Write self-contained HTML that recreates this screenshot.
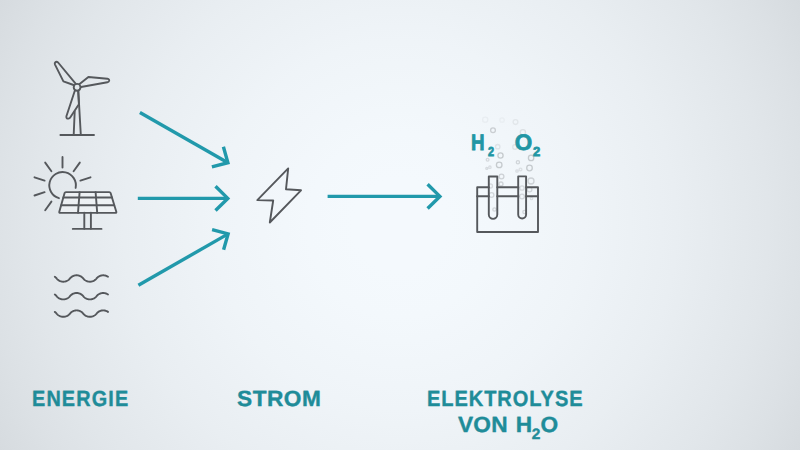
<!DOCTYPE html>
<html lang="de"><head><meta charset="utf-8"><title>Elektrolyse</title>
<style>
html,body{margin:0;padding:0;}
body{width:800px;height:450px;overflow:hidden;background:#d6dbdf;font-family:"Liberation Sans",sans-serif;}
#stage{position:relative;width:800px;height:450px;overflow:hidden;background:radial-gradient(circle 460px at 400px 225px, rgb(244,249,253) 0.0%, rgb(244,249,253) 10.0%, rgb(243,248,252) 20.0%, rgb(241,246,250) 30.0%, rgb(239,244,248) 40.0%, rgb(236,241,245) 50.0%, rgb(233,238,242) 60.0%, rgb(229,234,238) 70.0%, rgb(225,230,234) 80.0%, rgb(220,225,229) 90.0%, rgb(214,219,223) 100.0%);}
svg{position:absolute;left:0;top:0;}
.t{position:absolute;font-weight:bold;text-rendering:geometricPrecision;white-space:nowrap;transform-origin:0 0;line-height:1;-webkit-text-stroke:0.4px currentColor;}
.lbl{color:#1f8c99;font-size:22px;}
.lbl sub{font-size:15px;line-height:0;vertical-align:baseline;position:relative;top:6.6px;}
.chem{color:#2196a4;font-size:22.4px;-webkit-text-stroke:0.8px currentColor;}
.chem sub{font-size:13px;line-height:0;vertical-align:baseline;position:relative;top:5.9px;}
</style></head><body>
<div id="stage">
<svg width="800" height="450" viewBox="0 0 800 450">
<g fill="none" stroke="#a9adb1" stroke-width="1.3">
<circle cx="493.0" cy="130.2" r="2.4" stroke-opacity="0.55"/>
<circle cx="500.5" cy="155.5" r="2.6" stroke-opacity="0.60"/>
<circle cx="499.2" cy="164.9" r="2.8" stroke-opacity="0.60"/>
<circle cx="531.1" cy="157.9" r="2.7" stroke-opacity="0.60"/>
<circle cx="529.5" cy="168.0" r="2.8" stroke-opacity="0.60"/>
<circle cx="522.9" cy="132.2" r="2.6" stroke-opacity="0.30"/>
<circle cx="515.5" cy="122.1" r="2.4" stroke-opacity="0.20"/>
<circle cx="485.2" cy="119.8" r="2.6" stroke-opacity="0.12"/>
<circle cx="515.0" cy="147.0" r="2.3" stroke-opacity="0.25"/>
<circle cx="517.9" cy="162.2" r="1.6" stroke-opacity="0.45"/>
<circle cx="487.6" cy="159.7" r="1.4" stroke-opacity="0.40"/>
<circle cx="497.7" cy="146.7" r="2.2" stroke-opacity="0.25"/>
<circle cx="486.8" cy="168.4" r="1.0" stroke-opacity="0.40"/>
<circle cx="489.9" cy="167.2" r="1.2" stroke-opacity="0.35"/>
<circle cx="517.0" cy="171.0" r="1.2" stroke-opacity="0.35"/>
<circle cx="520.5" cy="169.5" r="1.4" stroke-opacity="0.30"/>
<circle cx="501.5" cy="176.5" r="2.4" stroke-opacity="0.50"/>
<circle cx="501.0" cy="184.0" r="2.0" stroke-opacity="0.50"/>
<circle cx="531.0" cy="181.0" r="3.0" stroke-opacity="0.50"/>
<circle cx="529.5" cy="189.5" r="2.4" stroke-opacity="0.45"/>
<circle cx="490.5" cy="186.0" r="2.0" stroke-opacity="0.40"/>
<circle cx="491.5" cy="195.0" r="2.4" stroke-opacity="0.45"/>
<circle cx="494.5" cy="209.5" r="1.7" stroke-opacity="0.45"/>
<circle cx="522.0" cy="188.0" r="2.2" stroke-opacity="0.40"/>
<circle cx="522.0" cy="196.5" r="2.4" stroke-opacity="0.45"/>
<circle cx="524.5" cy="212.0" r="1.7" stroke-opacity="0.45"/>
<circle cx="531.5" cy="198.5" r="1.2" stroke-opacity="0.30"/>
<circle cx="502.0" cy="120.0" r="2.2" stroke-opacity="0.10"/>
</g>
<g fill="none" stroke="#55585c" stroke-width="1.9" stroke-linecap="round" stroke-linejoin="round">
<!-- wind turbine -->
<line x1="60.4" y1="135" x2="94" y2="135"/>
<path d="M78.3 91 L80.8 134.8"/>
<path d="M74.7 111.5 L73.7 134.8"/>
<path d="M74.8 90.7 L66.4 116.2 Q66 118.8 68.4 118.6 Q69.6 118.4 70.2 117.5 L78.9 104.2 L78.2 91"/>
<path d="M75.6 83.6 L58.1 62.5 Q56.4 61.2 55.2 62.5 Q54.5 63.3 54.9 64.3 L63.4 81.3 L73.6 85"/>
<path d="M79.6 84 L88.4 77 L107.4 78.7 Q109.4 79.3 109.2 80.7 Q109 81.9 107.4 82.3 L81 87"/>
<circle cx="77.1" cy="87.3" r="3.4"/>
<!-- sun -->
<path d="M75.66 187.94 A13.3 13.3 0 1 0 58.93 198.18"/>
<line x1="62.5" y1="167.6" x2="62.5" y2="157.0"/>
<line x1="73.6" y1="171.2" x2="79.8" y2="162.6"/>
<line x1="80.4" y1="180.6" x2="90.5" y2="177.3"/>
<line x1="51.4" y1="171.2" x2="45.2" y2="162.6"/>
<line x1="44.6" y1="180.6" x2="34.5" y2="177.3"/>
<line x1="44.6" y1="192.2" x2="34.5" y2="195.5"/>
<line x1="51.4" y1="201.6" x2="45.2" y2="210.2"/>
<!-- panel -->
<path fill="rgba(255,255,255,0.3)" d="M65.9 192.1 L109.3 192.1 Q110.3 192.1 110.6 193.1 L116.3 211.7 Q116.6 212.9 115.4 212.9 L60.2 212.9 Q59 212.9 59.3 211.7 L64.6 193.1 Q64.9 192.1 65.9 192.1Z"/>
<line x1="63.4" y1="197.5" x2="112" y2="197.5"/>
<line x1="61.3" y1="205.3" x2="114.2" y2="205.3"/>
<line x1="79.6" y1="192.1" x2="78" y2="212.9"/>
<line x1="95.6" y1="192.1" x2="97.2" y2="212.9"/>
<line x1="84.3" y1="212.8" x2="84.3" y2="228.7"/>
<line x1="90.9" y1="212.8" x2="90.9" y2="228.7"/>
<line x1="72.8" y1="228.9" x2="101.5" y2="228.9"/>
<!-- waves -->
<polyline points="54.80,276.78 55.20,277.07 55.60,277.40 56.00,277.78 56.40,278.20 56.80,278.68 57.20,279.12 57.60,279.51 58.00,279.85 58.40,280.15 58.80,280.41 59.20,280.65 59.60,280.85 60.00,281.03 60.40,281.19 60.80,281.32 61.20,281.44 61.60,281.53 62.00,281.60 62.40,281.65 62.80,281.69 63.20,281.70 63.60,281.69 64.00,281.67 64.40,281.63 64.80,281.57 65.20,281.49 65.60,281.38 66.00,281.26 66.40,281.12 66.80,280.95 67.20,280.75 67.60,280.53 68.00,280.28 68.40,280.00 68.80,279.68 69.20,279.32 69.60,278.91 70.00,278.44 70.40,277.98 70.80,277.58 71.20,277.23 71.60,276.92 72.00,276.65 72.40,276.41 72.80,276.20 73.20,276.01 73.60,275.85 74.00,275.71 74.40,275.59 74.80,275.49 75.20,275.42 75.60,275.36 76.00,275.32 76.40,275.30 76.80,275.30 77.20,275.32 77.60,275.36 78.00,275.42 78.40,275.49 78.80,275.59 79.20,275.71 79.60,275.85 80.00,276.01 80.40,276.20 80.80,276.41 81.20,276.65 81.60,276.92 82.00,277.23 82.40,277.58 82.80,277.98 83.20,278.44 83.60,278.91 84.00,279.32 84.40,279.68 84.80,280.00 85.20,280.28 85.60,280.53 86.00,280.75 86.40,280.95 86.80,281.12 87.20,281.26 87.60,281.38 88.00,281.49 88.40,281.57 88.80,281.63 89.20,281.67 89.60,281.69 90.00,281.70 90.40,281.69 90.80,281.65 91.20,281.60 91.60,281.53 92.00,281.44 92.40,281.32 92.80,281.19 93.20,281.03 93.60,280.85 94.00,280.65 94.40,280.41 94.80,280.15 95.20,279.85 95.60,279.51 96.00,279.12 96.40,278.68 96.80,278.20 97.20,277.78 97.60,277.40 98.00,277.07 98.40,276.78 98.80,276.53 99.20,276.30 99.60,276.10 100.00,275.92 100.40,275.77 100.80,275.65 101.20,275.54 101.60,275.45 102.00,275.39 102.40,275.34 102.80,275.31 103.20,275.30 103.60,275.31 104.00,275.34 104.40,275.39 104.80,275.45 105.20,275.54 105.60,275.65 106.00,275.77 106.40,275.92 106.80,276.10 107.20,276.30 107.60,276.53 108.00,276.78"/>
<polyline points="54.80,294.48 55.20,294.77 55.60,295.10 56.00,295.48 56.40,295.90 56.80,296.38 57.20,296.82 57.60,297.21 58.00,297.55 58.40,297.85 58.80,298.11 59.20,298.35 59.60,298.55 60.00,298.73 60.40,298.89 60.80,299.02 61.20,299.14 61.60,299.23 62.00,299.30 62.40,299.35 62.80,299.39 63.20,299.40 63.60,299.39 64.00,299.37 64.40,299.33 64.80,299.27 65.20,299.19 65.60,299.08 66.00,298.96 66.40,298.82 66.80,298.65 67.20,298.45 67.60,298.23 68.00,297.98 68.40,297.70 68.80,297.38 69.20,297.02 69.60,296.61 70.00,296.14 70.40,295.68 70.80,295.28 71.20,294.93 71.60,294.62 72.00,294.35 72.40,294.11 72.80,293.90 73.20,293.71 73.60,293.55 74.00,293.41 74.40,293.29 74.80,293.19 75.20,293.12 75.60,293.06 76.00,293.02 76.40,293.00 76.80,293.00 77.20,293.02 77.60,293.06 78.00,293.12 78.40,293.19 78.80,293.29 79.20,293.41 79.60,293.55 80.00,293.71 80.40,293.90 80.80,294.11 81.20,294.35 81.60,294.62 82.00,294.93 82.40,295.28 82.80,295.68 83.20,296.14 83.60,296.61 84.00,297.02 84.40,297.38 84.80,297.70 85.20,297.98 85.60,298.23 86.00,298.45 86.40,298.65 86.80,298.82 87.20,298.96 87.60,299.08 88.00,299.19 88.40,299.27 88.80,299.33 89.20,299.37 89.60,299.39 90.00,299.40 90.40,299.39 90.80,299.35 91.20,299.30 91.60,299.23 92.00,299.14 92.40,299.02 92.80,298.89 93.20,298.73 93.60,298.55 94.00,298.35 94.40,298.11 94.80,297.85 95.20,297.55 95.60,297.21 96.00,296.82 96.40,296.38 96.80,295.90 97.20,295.48 97.60,295.10 98.00,294.77 98.40,294.48 98.80,294.23 99.20,294.00 99.60,293.80 100.00,293.62 100.40,293.47 100.80,293.35 101.20,293.24 101.60,293.15 102.00,293.09 102.40,293.04 102.80,293.01 103.20,293.00 103.60,293.01 104.00,293.04 104.40,293.09 104.80,293.15 105.20,293.24 105.60,293.35 106.00,293.47 106.40,293.62 106.80,293.80 107.20,294.00 107.60,294.23 108.00,294.48"/>
<polyline points="54.80,311.88 55.20,312.17 55.60,312.50 56.00,312.88 56.40,313.30 56.80,313.78 57.20,314.22 57.60,314.61 58.00,314.95 58.40,315.25 58.80,315.51 59.20,315.75 59.60,315.95 60.00,316.13 60.40,316.29 60.80,316.42 61.20,316.54 61.60,316.63 62.00,316.70 62.40,316.75 62.80,316.79 63.20,316.80 63.60,316.79 64.00,316.77 64.40,316.73 64.80,316.67 65.20,316.59 65.60,316.48 66.00,316.36 66.40,316.22 66.80,316.05 67.20,315.85 67.60,315.63 68.00,315.38 68.40,315.10 68.80,314.78 69.20,314.42 69.60,314.01 70.00,313.54 70.40,313.08 70.80,312.68 71.20,312.33 71.60,312.02 72.00,311.75 72.40,311.51 72.80,311.30 73.20,311.11 73.60,310.95 74.00,310.81 74.40,310.69 74.80,310.59 75.20,310.52 75.60,310.46 76.00,310.42 76.40,310.40 76.80,310.40 77.20,310.42 77.60,310.46 78.00,310.52 78.40,310.59 78.80,310.69 79.20,310.81 79.60,310.95 80.00,311.11 80.40,311.30 80.80,311.51 81.20,311.75 81.60,312.02 82.00,312.33 82.40,312.68 82.80,313.08 83.20,313.54 83.60,314.01 84.00,314.42 84.40,314.78 84.80,315.10 85.20,315.38 85.60,315.63 86.00,315.85 86.40,316.05 86.80,316.22 87.20,316.36 87.60,316.48 88.00,316.59 88.40,316.67 88.80,316.73 89.20,316.77 89.60,316.79 90.00,316.80 90.40,316.79 90.80,316.75 91.20,316.70 91.60,316.63 92.00,316.54 92.40,316.42 92.80,316.29 93.20,316.13 93.60,315.95 94.00,315.75 94.40,315.51 94.80,315.25 95.20,314.95 95.60,314.61 96.00,314.22 96.40,313.78 96.80,313.30 97.20,312.88 97.60,312.50 98.00,312.17 98.40,311.88 98.80,311.63 99.20,311.40 99.60,311.20 100.00,311.02 100.40,310.87 100.80,310.75 101.20,310.64 101.60,310.55 102.00,310.49 102.40,310.44 102.80,310.41 103.20,310.40 103.60,310.41 104.00,310.44 104.40,310.49 104.80,310.55 105.20,310.64 105.60,310.75 106.00,310.87 106.40,311.02 106.80,311.20 107.20,311.40 107.60,311.63 108.00,311.88"/>
<!-- bolt -->
<path d="M288.2 168.4 L257.3 200.1 L273.2 200.5 L269.8 222.5 L301 190.3 L286 189.2Z"/>
<!-- electrolysis -->
<path d="M488.8 187.3 L477.2 187.3 L477.2 232 L538 232 L538 187.3 L526.1 187.3"/>
<line x1="497.3" y1="187.3" x2="518.3" y2="187.3"/>
<line x1="477.2" y1="196.2" x2="488.8" y2="196.2"/>
<line x1="497.3" y1="196.2" x2="518.3" y2="196.2"/>
<line x1="526.1" y1="196.2" x2="537.8" y2="196.2"/>
<path d="M488.8 176.5 L497.3 176.5 L497.3 214.6 A4.25 4.25 0 0 1 488.8 214.6Z"/>
<path d="M518.2 176.4 L526.1 176.4 L526.1 214.6 A3.95 3.95 0 0 1 518.2 214.6Z"/>
</g>
<g fill="none" stroke="#2199ab" stroke-width="3.4" stroke-linejoin="miter" stroke-miterlimit="10">
<path d="M139.9 112.5L226.6 162.0"/><path d="M211.9 166.9L227.9 162.7L223.4 146.8"/>
<path d="M137.8 198.4L226.3 198.4"/><path d="M215.5 210.5L227.8 198.4L215.5 186.3"/>
<path d="M138.4 285.3L226.8 234.6"/><path d="M223.6 249.8L228.1 233.9L212.1 229.7"/>
<path d="M327.6 196.4L438.4 196.4"/><path d="M427.6 208.5L439.9 196.4L427.6 184.3"/>
</g>
</svg>
<div class="t chem" id="h2" style="left:471.3px;top:131.8px;transform:scaleX(0.84);">H<sub style="margin-left:4.2px;">2</sub></div>
<div class="t chem" id="o2" style="left:514.7px;top:131.8px;">O<sub style="margin-left:0.8px">2</sub></div>
<div class="t lbl" id="l1" style="left:32.3px;top:387.9px;transform:scaleX(0.9);letter-spacing:1.3px;">ENERGIE</div>
<div class="t lbl" id="l2" style="left:237px;top:387.9px;transform:scaleX(1.03);letter-spacing:0.5px;">STROM</div>
<div class="t lbl" id="l3" style="left:427px;top:387.9px;transform:scaleX(0.91);letter-spacing:1.04px;">ELEKTROLYSE</div>
<div class="t lbl" id="l4" style="left:458.3px;top:413.9px;transform:scaleX(1.03);letter-spacing:0.2px;word-spacing:1.5px;">VON H<sub style="margin-left:-0.6px;top:7.5px">2</sub>O</div>
</div>
</body></html>
